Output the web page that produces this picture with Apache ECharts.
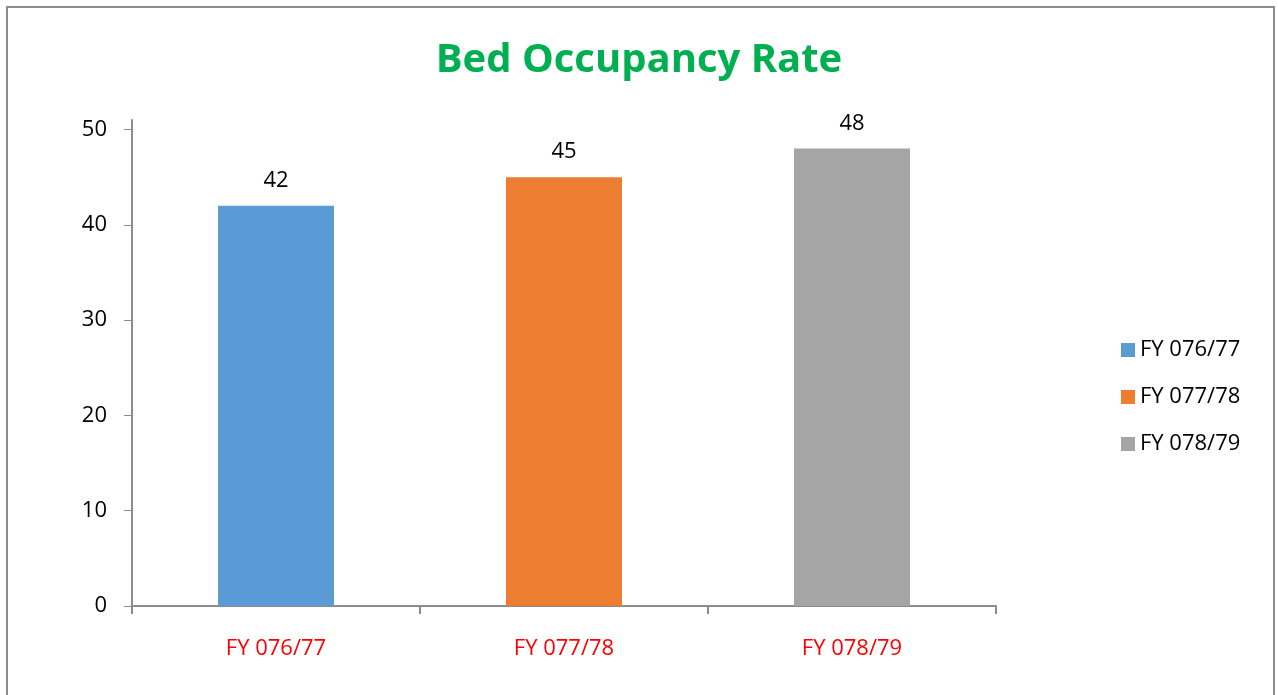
<!DOCTYPE html>
<html>
<head>
<meta charset="utf-8">
<title>Bed Occupancy Rate</title>
<script src="https://cdn.jsdelivr.net/npm/echarts@6/dist/echarts.min.js"></script>
<style>
  html, body { margin: 0; padding: 0; background: #fff; }
  #chart { width: 1278px; height: 695px; }
</style>
</head>
<body>
<div id="chart"></div>
<script>
// data
var categories = ['FY 076/77', 'FY 077/78', 'FY 078/79']
var occupancy = [42, 45, 48]
var barColors = ['#5B9BD5', '#ED7D31', '#A5A5A5']
var yTicks = [0, 10, 20, 30, 40, 50]

var font = '"Open Sans", "Noto Sans", sans-serif'
var chart = echarts.init(document.getElementById('chart'))

// one series per year, stacked so each bar sits centred in its own category
var series = categories.map(function (name, i) {
  return {
    name: name,
    type: 'bar',
    stack: 'all',
    barWidth: 116,
    itemStyle: { color: barColors[i] },
    label: {
      show: true,
      position: 'top',
      distance: 14,
      color: '#000',
      fontSize: 22,
      fontFamily: font
    },
    data: categories.map(function (c, j) { return j === i ? occupancy[i] : '-' })
  }
})

var option = {
  animation: false,
  graphic: [{
    type: 'rect',
    shape: { x: 7, y: 7, width: 1267, height: 700 },
    style: { fill: 'none', stroke: '#8c8c8c', lineWidth: 2 },
    silent: true
  }],
  title: {
    text: 'Bed Occupancy Rate',
    left: 'center',
    top: 36,
    textStyle: { color: '#00B050', fontSize: 40, fontWeight: 'bold', fontFamily: font }
  },
  legend: {
    orient: 'vertical',
    left: 1116,
    top: 334,
    itemWidth: 14,
    itemHeight: 14,
    itemGap: 25,
    icon: 'rect',
    textStyle: { color: '#000', fontSize: 22, fontFamily: font },
    data: categories
  },
  grid: { left: 132, right: 282, top: 120, bottom: 89 },
  xAxis: {
    type: 'category',
    data: categories,
    axisLine: { lineStyle: { color: '#8c8c8c', width: 2 } },
    axisTick: { show: true, length: 8, lineStyle: { color: '#8c8c8c', width: 2 } },
    axisLabel: { color: '#FF0000', fontSize: 22, fontFamily: font, margin: 32 }
  },
  yAxis: {
    type: 'value',
    min: 0,
    max: 51,
    splitLine: { show: false },
    axisLine: { show: true, lineStyle: { color: '#8c8c8c', width: 2 } },
    axisTick: { show: true, length: 8, customValues: yTicks, lineStyle: { color: '#8c8c8c', width: 1 } },
    axisLabel: { color: '#000', fontSize: 22, fontFamily: font, margin: 25, customValues: yTicks }
  },
  series: series
}

chart.setOption(option)
</script>
</body>
</html>
